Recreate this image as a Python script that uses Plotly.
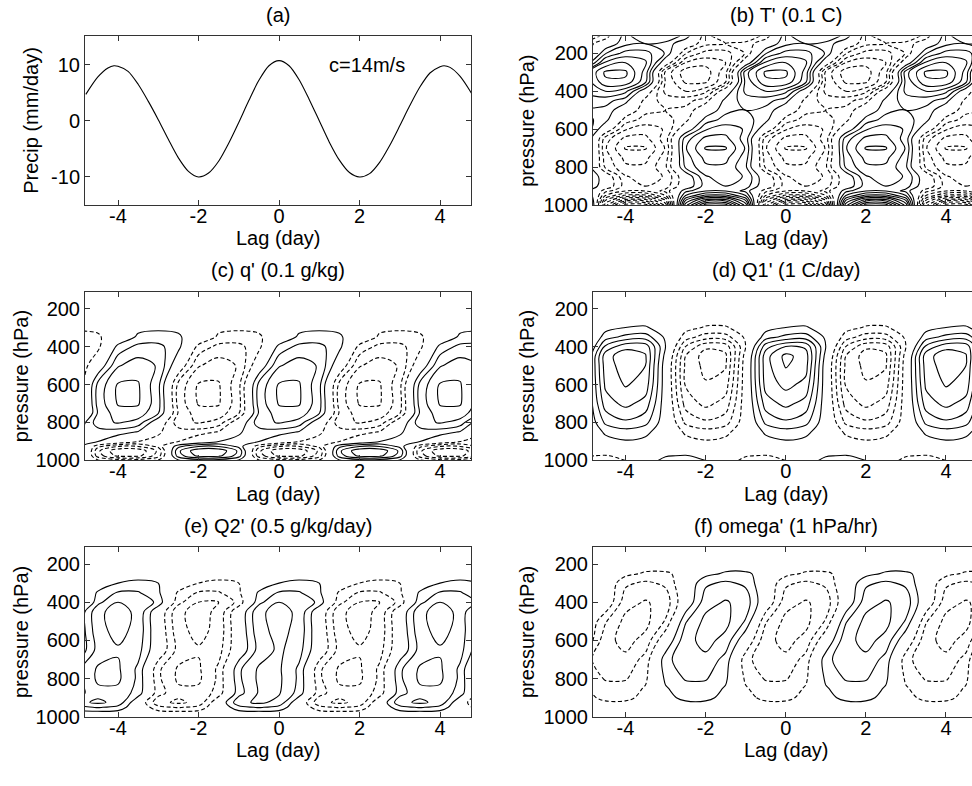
import plotly.graph_objects as go

# ---------------- data ----------------
# (a) precipitation composite
PRECIP_LAG = [-4.8, -4.5, -4.25, -4.1, -4.0, -3.75, -3.5, -3.25, -3.0, -2.75, -2.5, -2.25, -2.0,
              -1.75, -1.5, -1.25, -1.0, -0.75, -0.5, -0.25, 0.0, 0.25, 0.5, 0.75, 1.0, 1.25, 1.5,
              1.75, 2.0, 2.25, 2.5, 2.75, 3.0, 3.25, 3.5, 3.75, 4.0, 4.1, 4.25, 4.5, 4.8]
PRECIP = [4.7, 7.8, 9.4, 9.8, 9.7, 8.8, 6.5, 3.5, 0.2, -3.3, -6.6, -9.0, -10.0,
          -9.3, -7.2, -4.0, -0.3, 3.6, 7.2, 9.8, 10.7, 9.8, 7.3, 3.8, 0.0, -3.8, -7.0,
          -9.2, -10.0, -9.4, -7.4, -4.4, -0.9, 2.7, 6.0, 8.5, 9.6, 9.8, 9.5, 7.9, 4.7]

# lag grid shared by the height-lag panels
LAG = [-5.0, -4.5, -4.0, -3.5, -3.0, -2.5, -2.0, -1.5, -1.0, -0.5, 0.0,
       0.5, 1.0, 1.5, 2.0, 2.5, 3.0, 3.5, 4.0, 4.5, 5.0]

LAG_TICKS = [-4, -2, 0, 2, 4]
LAG_TICKTEXT = ["-4", "-2", "0", "2", "4"]
P_TICKS = [200, 400, 600, 800, 1000]
PRECIP_TICKS = [-10, 0, 10]
PRECIP_TICKTEXT = ["-10", "0", "10"]

# (b) T' (units of 0.1 C)
B_P = [1000, 975, 950, 925, 900, 850, 800, 750, 700, 650, 600, 550, 500, 450, 400, 350, 300, 250, 200, 150, 110]
B_T = [
    [6.6, -6.6, -11.5, -11.5, -6.6, 6.6, 11.5, 11.5, 6.6, -6.6, -11.5, -11.5, -6.6, 6.6, 11.5, 11.5, 6.6, -6.6, -11.5, -11.5, -6.6],
    [5.0, -5.0, -8.6, -8.6, -5.0, 5.0, 8.6, 8.6, 5.0, -5.0, -8.6, -8.6, -5.0, 5.0, 8.6, 8.6, 5.0, -5.0, -8.6, -8.6, -5.0],
    [3.0, -3.0, -5.3, -5.3, -3.0, 3.0, 5.3, 5.3, 3.0, -3.0, -5.3, -5.3, -3.0, 3.0, 5.3, 5.3, 3.0, -3.0, -5.3, -5.3, -3.0],
    [1.65, -1.65, -2.9, -2.9, -1.65, 1.65, 2.9, 2.9, 1.65, -1.65, -2.9, -2.9, -1.65, 1.65, 2.9, 2.9, 1.65, -1.65, -2.9, -2.9, -1.65],
    [2.5, 0.0, -2.5, -3.0, -2.5, 0.0, 2.5, 3.0, 2.5, 0.0, -2.5, -3.0, -2.5, 0.0, 2.5, 3.0, 2.5, 0.0, -2.5, -3.0, -2.5],
    [2.9, 0.0, -2.9, -3.5, -2.9, 0.0, 2.9, 3.5, 2.9, 0.0, -2.9, -3.5, -2.9, 0.0, 2.9, 3.5, 2.9, 0.0, -2.9, -3.5, -2.9],
    [2.2, -2.2, -3.8, -3.8, -2.2, 2.2, 3.8, 3.8, 2.2, -2.2, -3.8, -3.8, -2.2, 2.2, 3.8, 3.8, 2.2, -2.2, -3.8, -3.8, -2.2],
    [2.5, -2.5, -4.3, -4.3, -2.5, 2.5, 4.3, 4.3, 2.5, -2.5, -4.3, -4.3, -2.5, 2.5, 4.3, 4.3, 2.5, -2.5, -4.3, -4.3, -2.5],
    [2.9, -2.9, -5.1, -5.1, -2.9, 2.9, 5.1, 5.1, 2.9, -2.9, -5.1, -5.1, -2.9, 2.9, 5.1, 5.1, 2.9, -2.9, -5.1, -5.1, -2.9],
    [2.5, -2.5, -4.3, -4.3, -2.5, 2.5, 4.3, 4.3, 2.5, -2.5, -4.3, -4.3, -2.5, 2.5, 4.3, 4.3, 2.5, -2.5, -4.3, -4.3, -2.5],
    [2.9, 0.0, -2.9, -3.5, -2.9, 0.0, 2.9, 3.5, 2.9, 0.0, -2.9, -3.5, -2.9, 0.0, 2.9, 3.5, 2.9, 0.0, -2.9, -3.5, -2.9],
    [2.4, 1.4, -1.4, -2.4, -2.4, -1.4, 1.4, 2.4, 2.4, 1.4, -1.4, -2.4, -2.4, -1.4, 1.4, 2.4, 2.4, 1.4, -1.4, -2.4, -2.4],
    [2.0, 1.7, 0.0, -1.7, -2.0, -1.7, 0.0, 1.7, 2.0, 1.7, 0.0, -1.7, -2.0, -1.7, 0.0, 1.7, 2.0, 1.7, 0.0, -1.7, -2.0],
    [2.4, 2.4, 1.4, -1.4, -2.4, -2.4, -1.4, 1.4, 2.4, 2.4, 1.4, -1.4, -2.4, -2.4, -1.4, 1.4, 2.4, 2.4, 1.4, -1.4, -2.4],
    [3.3, 4.0, 3.3, 0.0, -3.3, -4.0, -3.3, 0.0, 3.3, 4.0, 3.3, 0.0, -3.3, -4.0, -3.3, 0.0, 3.3, 4.0, 3.3, 0.0, -3.3],
    [3.3, 5.8, 5.8, 3.3, -3.1, -5.2, -5.2, -3.1, 3.3, 5.8, 5.8, 3.3, -3.1, -5.2, -5.2, -3.1, 3.3, 5.8, 5.8, 3.3, -3.1],
    [3.6, 6.2, 6.2, 3.6, -3.3, -5.6, -5.6, -3.3, 3.6, 6.2, 6.2, 3.6, -3.3, -5.6, -5.6, -3.3, 3.6, 6.2, 6.2, 3.6, -3.3],
    [0.0, 4.2, 5.0, 4.2, 0.0, -4.0, -4.6, -4.0, 0.0, 4.2, 5.0, 4.2, 0.0, -4.0, -4.6, -4.0, 0.0, 4.2, 5.0, 4.2, 0.0],
    [-1.9, 1.9, 3.4, 3.4, 1.9, -1.9, -3.4, -3.4, -1.9, 1.9, 3.4, 3.4, 1.9, -1.9, -3.4, -3.4, -1.9, 1.9, 3.4, 3.4, 1.9],
    [-1.7, 0.0, 1.7, 2.0, 1.7, 0.0, -1.7, -2.0, -1.7, 0.0, 1.7, 2.0, 1.7, 0.0, -1.7, -2.0, -1.7, 0.0, 1.7, 2.0, 1.7],
    [-2.9, -1.65, 1.65, 2.9, 2.9, 1.65, -1.65, -2.9, -2.9, -1.65, 1.65, 2.9, 2.9, 1.65, -1.65, -2.9, -2.9, -1.65, 1.65, 2.9, 2.9],
]

# (c) q' (units of 0.1 g/kg)
C_P = [1000, 975, 950, 925, 900, 850, 800, 750, 700, 600, 500, 400, 350, 300, 250, 200, 110]
C_Q = [
    [0.8, -0.8, -1.4, -1.4, -0.8, 0.8, 1.4, 1.4, 0.8, -0.8, -1.4, -1.4, -0.8, 0.8, 1.4, 1.4, 0.8, -0.8, -1.4, -1.4, -0.8],
    [2.5, -2.5, -4.3, -4.3, -2.5, 2.5, 4.3, 4.3, 2.5, -2.5, -4.3, -4.3, -2.5, 2.5, 4.3, 4.3, 2.5, -2.5, -4.3, -4.3, -2.5],
    [2.8, -2.8, -4.8, -4.8, -2.8, 2.8, 4.8, 4.8, 2.8, -2.8, -4.8, -4.8, -2.8, 2.8, 4.8, 4.8, 2.8, -2.8, -4.8, -4.8, -2.8],
    [1.7, -1.7, -2.9, -2.9, -1.7, 1.7, 2.9, 2.9, 1.7, -1.7, -2.9, -2.9, -1.7, 1.7, 2.9, 2.9, 1.7, -1.7, -2.9, -2.9, -1.7],
    [1.2, 1.0, 0.0, -1.0, -1.2, -1.0, 0.0, 1.0, 1.2, 1.0, 0.0, -1.0, -1.2, -1.0, 0.0, 1.0, 1.2, 1.0, 0.0, -1.0, -1.2],
    [0.9, 1.5, 1.5, 0.9, -0.9, -1.5, -1.5, -0.9, 0.9, 1.5, 1.5, 0.9, -0.9, -1.5, -1.5, -0.9, 0.9, 1.5, 1.5, 0.9, -0.9],
    [0.0, 2.6, 3.1, 2.6, 0.0, -2.6, -3.1, -2.6, 0.0, 2.6, 3.1, 2.6, 0.0, -2.6, -3.1, -2.6, 0.0, 2.6, 3.1, 2.6, 0.0],
    [-2.1, 2.1, 3.6, 3.6, 2.1, -2.1, -3.6, -3.6, -2.1, 2.1, 3.6, 3.6, 2.1, -2.1, -3.6, -3.6, -2.1, 2.1, 3.6, 3.6, 2.1],
    [-2.4, 2.4, 4.1, 4.1, 2.4, -2.4, -4.1, -4.1, -2.4, 2.4, 4.1, 4.1, 2.4, -2.4, -4.1, -4.1, -2.4, 2.4, 4.1, 4.1, 2.4],
    [-2.3, 2.3, 4.1, 4.1, 2.3, -2.3, -4.1, -4.1, -2.3, 2.3, 4.1, 4.1, 2.3, -2.3, -4.1, -4.1, -2.3, 2.3, 4.1, 4.1, 2.3],
    [-2.0, 0.0, 2.9, 3.5, 2.9, 0.0, -2.9, -3.5, -2.9, 0.0, 2.9, 3.5, 2.9, 0.0, -2.9, -3.5, -2.9, 0.0, 2.9, 3.5, 2.9],
    [-1.5, -1.3, 1.3, 2.3, 2.3, 1.3, -1.3, -2.3, -2.3, -1.3, 1.3, 2.3, 2.3, 1.3, -1.3, -2.3, -2.3, -1.3, 1.3, 2.3, 2.3],
    [-1.4, -1.2, 0.0, 1.2, 1.4, 1.2, 0.0, -1.2, -1.4, -1.2, 0.0, 1.2, 1.4, 1.2, 0.0, -1.2, -1.4, -1.2, 0.0, 1.2, 1.4],
    [-0.8, -0.7, 0.0, 0.7, 0.8, 0.7, 0.0, -0.7, -0.8, -0.7, 0.0, 0.7, 0.8, 0.7, 0.0, -0.7, -0.8, -0.7, 0.0, 0.7, 0.8],
    [-0.3, -0.25, 0.0, 0.25, 0.3, 0.25, 0.0, -0.25, -0.3, -0.25, 0.0, 0.25, 0.3, 0.25, 0.0, -0.25, -0.3, -0.25, 0.0, 0.25, 0.3],
    [0.0] * 21,
    [0.0] * 21,
]

# (d) Q1' (units of 1 C/day)
D_P = [1000, 975, 950, 900, 850, 800, 700, 600, 500, 450, 400, 350, 300, 250, 200, 110]
D_Q1 = [
    [-1.4, -1.7, -1.0, 0.3, 1.4, 1.7, 1.0, -0.3, -1.4, -1.7, -1.0, 0.3, 1.4, 1.7, 1.0, -0.3, -1.4, -1.7, -1.0, 0.3, 1.4],
    [-0.9, -1.1, -0.6, 0.2, 0.9, 1.1, 0.6, -0.2, -0.9, -1.1, -0.6, 0.2, 0.9, 1.1, 0.6, -0.2, -0.9, -1.1, -0.6, 0.2, 0.9],
    [0.0, 0.1, 0.2, 0.1, 0.0, -0.1, -0.2, -0.1, 0.0, 0.1, 0.2, 0.1, 0.0, -0.1, -0.2, -0.1, 0.0, 0.1, 0.2, 0.1, 0.0],
    [-0.1, 0.6, 0.9, 0.7, 0.1, -0.6, -0.9, -0.7, -0.1, 0.6, 0.9, 0.7, 0.1, -0.6, -0.9, -0.7, -0.1, 0.6, 0.9, 0.7, 0.1],
    [-0.2, 1.2, 1.6, 1.3, 0.2, -1.2, -1.6, -1.3, -0.2, 1.2, 1.6, 1.3, 0.2, -1.2, -1.6, -1.3, -0.2, 1.2, 1.6, 1.3, 0.2],
    [-0.3, 2.2, 2.8, 2.3, 0.3, -2.2, -2.8, -2.4, -0.3, 2.2, 2.8, 2.3, 0.3, -2.2, -2.8, -2.4, -0.3, 2.2, 2.8, 2.3, 0.3],
    [-0.3, 3.5, 4.3, 3.6, 0.3, -3.4, -4.3, -3.6, -0.3, 3.5, 4.3, 3.6, 0.3, -3.4, -4.3, -3.6, -0.3, 3.5, 4.3, 3.6, 0.3],
    [-0.3, 4.2, 5.1, 4.6, 0.3, -4.1, -4.9, -4.5, -0.3, 4.4, 5.3, 4.7, 0.3, -4.1, -4.9, -4.5, -0.3, 4.2, 5.1, 4.6, 0.3],
    [-0.3, 4.5, 5.5, 5.0, 0.3, -4.2, -5.3, -5.1, -0.3, 4.6, 6.1, 5.4, 0.3, -4.2, -5.3, -5.1, -0.3, 4.5, 5.5, 5.0, 0.3],
    [-0.5, 4.6, 5.6, 5.1, 0.6, -4.0, -5.5, -5.2, -0.5, 4.6, 6.3, 5.5, 0.6, -4.0, -5.5, -5.2, -0.5, 4.6, 5.6, 5.1, 0.6],
    [-1.0, 3.2, 4.7, 4.6, 1.0, -3.0, -4.8, -4.6, -1.0, 3.6, 5.0, 4.8, 1.0, -3.0, -4.8, -4.6, -1.0, 3.2, 4.7, 4.6, 1.0],
    [-0.8, 1.5, 2.3, 2.5, 0.8, -1.5, -2.5, -2.4, -0.8, 1.5, 2.3, 2.5, 0.8, -1.5, -2.5, -2.4, -0.8, 1.5, 2.3, 2.5, 0.8],
    [-0.5, 0.6, 1.0, 1.1, 0.5, -0.6, -1.1, -1.1, -0.5, 0.6, 1.0, 1.1, 0.5, -0.6, -1.1, -1.1, -0.5, 0.6, 1.0, 1.1, 0.5],
    [-0.2, 0.3, 0.4, 0.5, 0.2, -0.3, -0.5, -0.5, -0.2, 0.3, 0.4, 0.5, 0.2, -0.3, -0.5, -0.5, -0.2, 0.3, 0.4, 0.5, 0.2],
    [0.0, 0.1, 0.1, 0.1, 0.0, -0.1, -0.1, -0.1, 0.0, 0.1, 0.1, 0.1, 0.0, -0.1, -0.1, -0.1, 0.0, 0.1, 0.1, 0.1, 0.0],
    [0.0] * 21,
]

# (e) Q2' (units of 0.5 g/kg/day)
E_P = [1000, 975, 950, 925, 875, 800, 750, 650, 550, 450, 400, 350, 300, 250, 200, 110]
E_Q2 = [
    [0.0] * 21,
    [0.7, 0.8, 0.7, 0.0, -0.7, -0.8, -0.7, 0.0, 0.7, 0.8, 0.7, 0.0, -0.7, -0.8, -0.7, 0.0, 0.7, 0.8, 0.7, 0.0, -0.7],
    [1.7, 2.1, 1.7, 0.0, -1.7, -2.1, -1.7, 0.0, 1.7, 2.1, 1.7, 0.0, -1.7, -2.1, -1.7, 0.0, 1.7, 2.1, 1.7, 0.0, -1.7],
    [2.7, 3.2, 2.7, 0.0, -2.7, -3.2, -2.7, 0.0, 2.7, 3.2, 2.7, 0.0, -2.7, -3.2, -2.7, 0.0, 2.7, 3.2, 2.7, 0.0, -2.7],
    [1.6, 2.7, 2.7, 1.6, -1.6, -2.7, -2.7, -1.6, 1.6, 3.1, 3.1, 1.6, -1.6, -2.7, -2.7, -1.6, 1.6, 2.7, 2.7, 1.6, -1.6],
    [1.8, 3.2, 3.2, 1.8, -1.8, -3.2, -3.2, -1.8, 1.8, 3.2, 3.2, 1.8, -1.8, -3.2, -3.2, -1.8, 1.8, 3.2, 3.2, 1.8, -1.8],
    [1.8, 3.15, 3.15, 1.8, -1.8, -3.15, -3.15, -1.8, 1.8, 3.15, 3.15, 1.8, -1.8, -3.15, -3.15, -1.8, 1.8, 3.15, 3.15, 1.8, -1.8],
    [0.0, 2.4, 2.9, 2.4, 0.0, -2.4, -2.9, -2.4, 0.0, 2.4, 3.2, 2.4, 0.0, -2.4, -2.9, -2.4, 0.0, 2.4, 2.9, 2.4, 0.0],
    [0.0, 2.7, 3.3, 2.7, 0.0, -2.7, -3.3, -2.7, 0.0, 2.7, 3.3, 2.7, 0.0, -2.7, -3.3, -2.7, 0.0, 2.7, 3.3, 2.7, 0.0],
    [0.0, 2.8, 3.35, 2.8, 0.0, -2.8, -3.35, -2.8, 0.0, 2.8, 3.35, 2.8, 0.0, -2.8, -3.35, -2.8, 0.0, 2.8, 3.35, 2.8, 0.0],
    [-1.7, 1.7, 3.0, 3.0, 1.7, -1.7, -3.0, -3.0, -1.7, 1.7, 3.0, 3.0, 1.7, -1.7, -3.0, -3.0, -1.7, 1.7, 3.0, 3.0, 1.7],
    [-1.2, 1.2, 2.1, 2.1, 1.2, -1.2, -2.1, -2.1, -1.2, 1.2, 2.1, 2.1, 1.2, -1.2, -2.1, -2.1, -1.2, 1.2, 2.1, 2.1, 1.2],
    [-1.0, 0.0, 1.0, 1.25, 1.0, 0.0, -1.0, -1.25, -1.0, 0.0, 1.0, 1.25, 1.0, 0.0, -1.0, -1.25, -1.0, 0.0, 1.0, 1.25, 1.0],
    [-0.4, 0.0, 0.4, 0.5, 0.4, 0.0, -0.4, -0.5, -0.4, 0.0, 0.4, 0.5, 0.4, 0.0, -0.4, -0.5, -0.4, 0.0, 0.4, 0.5, 0.4],
    [-0.1, 0.0, 0.1, 0.1, 0.1, 0.0, -0.1, -0.1, -0.1, 0.0, 0.1, 0.1, 0.1, 0.0, -0.1, -0.1, -0.1, 0.0, 0.1, 0.1, 0.1],
    [0.0] * 21,
]

# (f) omega' (units of 1 hPa/hr)
F_P = [1000, 950, 900, 850, 800, 700, 600, 500, 400, 300, 250, 200, 110]
F_W = [
    [0.0] * 21,
    [-0.3, -0.5, -0.5, -0.3, 0.3, 0.5, 0.5, 0.3, -0.3, -0.5, -0.5, -0.3, 0.3, 0.5, 0.5, 0.3, -0.3, -0.5, -0.5, -0.3, 0.3],
    [-0.7, -1.25, -1.25, -0.7, 0.7, 1.25, 1.25, 0.7, -0.7, -1.25, -1.25, -0.7, 0.7, 1.25, 1.25, 0.7, -0.7, -1.25, -1.25, -0.7, 0.7],
    [-0.9, -1.6, -1.6, -0.9, 0.9, 1.6, 1.6, 0.9, -0.9, -1.6, -1.6, -0.9, 0.9, 1.6, 1.6, 0.9, -0.9, -1.6, -1.6, -0.9, 0.9],
    [-1.2, -2.1, -2.1, -1.2, 1.2, 2.1, 2.1, 1.2, -1.2, -2.1, -2.1, -1.2, 1.2, 2.1, 2.1, 1.2, -1.2, -2.1, -2.1, -1.2, 1.2],
    [-1.6, -2.8, -2.8, -1.6, 1.6, 2.8, 2.8, 1.6, -1.6, -2.8, -2.8, -1.6, 1.6, 2.8, 2.8, 1.6, -1.6, -2.8, -2.8, -1.6, 1.6],
    [0.0, -2.7, -3.3, -2.7, 0.0, 2.7, 3.3, 2.7, 0.0, -2.7, -3.3, -2.7, 0.0, 2.7, 3.3, 2.7, 0.0, -2.7, -3.3, -2.7, 0.0],
    [0.3, -1.9, -3.3, -3.3, -1.9, 1.9, 3.3, 3.3, 1.9, -1.9, -3.3, -3.3, -1.9, 1.9, 3.3, 3.3, 1.9, -1.9, -3.3, -3.3, -1.9],
    [0.6, 0.0, -2.6, -3.1, -2.6, 0.0, 2.6, 3.1, 2.6, 0.0, -2.6, -3.1, -2.6, 0.0, 2.6, 3.1, 2.6, 0.0, -2.6, -3.1, -2.6],
    [0.5, 0.0, -1.8, -2.2, -1.8, 0.0, 1.8, 2.2, 1.8, 0.0, -1.8, -2.2, -1.8, 0.0, 1.8, 2.2, 1.8, 0.0, -1.8, -2.2, -1.8],
    [0.3, 0.3, -0.66, -1.15, -1.15, -0.66, 0.66, 1.15, 1.15, 0.66, -0.66, -1.15, -1.15, -0.66, 0.66, 1.15, 1.15, 0.66, -0.66, -1.15, -1.15],
    [0.1, 0.1, -0.2, -0.4, -0.4, -0.2, 0.2, 0.4, 0.4, 0.2, -0.2, -0.4, -0.4, -0.2, 0.2, 0.4, 0.4, 0.2, -0.2, -0.4, -0.4],
    [0.0] * 21,
]

# ---------------- figure ----------------
W, H = 972, 786
FONT = dict(family="Liberation Sans, Arial, sans-serif", size=20, color="black")
AXC = "#333333"
DASH = "4px,2.5px"

fig = go.Figure()

fig.add_trace(go.Scatter(x=PRECIP_LAG, y=PRECIP, mode="lines",
                         line=dict(color="black", width=1.1, shape="spline", smoothing=0.8),
                         hoverinfo="skip", showlegend=False, xaxis="x", yaxis="y"))


def add_field(pres, z, nmax, ax):
    for lo, hi, dash in ((1, nmax, "solid"), (-nmax, -1, DASH)):
        fig.add_trace(go.Contour(
            x=LAG, y=pres, z=z, autocontour=False,
            contours=dict(start=lo, end=hi, size=1, coloring="none", showlabels=False),
            line=dict(color="black", width=1.1, dash=dash, smoothing=1.0),
            showscale=False, hoverinfo="skip", showlegend=False,
            xaxis="x" + ax, yaxis="y" + ax))


add_field(B_P, B_T, 12, "2")
add_field(C_P, C_Q, 5, "3")
add_field(D_P, D_Q1, 7, "4")
add_field(E_P, E_Q2, 4, "5")
add_field(F_P, F_W, 4, "6")

# panel placement in pixels (right column runs off the right edge of the page)
LEFT_X = (85, 471)
RIGHT_X = (593, 972)
ROWS_Y = [(37, 208), (296, 467), (555, 727)]


def xdom(px):
    return [px[0] / W, px[1] / W]


def ydom(py):
    return [1 - py[1] / H, 1 - py[0] / H]


def xaxis(px, rng, anchor):
    return dict(domain=xdom(px), range=rng, anchor=anchor, showline=True, linecolor=AXC,
                linewidth=1, mirror="ticks", ticks="inside", ticklen=5, tickcolor=AXC,
                tickvals=LAG_TICKS, ticktext=LAG_TICKTEXT, showgrid=False, zeroline=False,
                tickfont=FONT, ticklabelstandoff=-7, fixedrange=True)


def yaxis(py, rng, anchor, tv, tt, mirror):
    return dict(domain=ydom(py), range=rng, anchor=anchor, showline=True, linecolor=AXC,
                linewidth=1, mirror=mirror, ticks="inside", ticklen=5, tickcolor=AXC,
                tickvals=tv, ticktext=tt, showgrid=False, zeroline=False,
                tickfont=FONT, fixedrange=True)


LRANGE = [-4.82, 4.77]
RRANGE = [-4.81, 4.65]
PRANGE = [1000, 112]
PT = [str(v) for v in P_TICKS]

layout = dict(
    width=W, height=H, margin=dict(l=0, r=0, t=0, b=0),
    paper_bgcolor="white", plot_bgcolor="white", showlegend=False,
    font=FONT,
    xaxis=xaxis(LEFT_X, LRANGE, "y"),
    yaxis=yaxis(ROWS_Y[0], [-15, 15], "x", PRECIP_TICKS, PRECIP_TICKTEXT, "ticks"),
    xaxis2=xaxis(RIGHT_X, RRANGE, "y2"),
    yaxis2=yaxis(ROWS_Y[0], PRANGE, "x2", P_TICKS, PT, False),
    xaxis3=xaxis(LEFT_X, LRANGE, "y3"),
    yaxis3=yaxis(ROWS_Y[1], PRANGE, "x3", P_TICKS, PT, "ticks"),
    xaxis4=xaxis(RIGHT_X, RRANGE, "y4"),
    yaxis4=yaxis(ROWS_Y[1], PRANGE, "x4", P_TICKS, PT, False),
    xaxis5=xaxis(LEFT_X, LRANGE, "y5"),
    yaxis5=yaxis(ROWS_Y[2], PRANGE, "x5", P_TICKS, PT, "ticks"),
    xaxis6=xaxis(RIGHT_X, RRANGE, "y6"),
    yaxis6=yaxis(ROWS_Y[2], PRANGE, "x6", P_TICKS, PT, False),
)

TITLES = ["(a)", "(b) T' (0.1 C)", "(c) q' (0.1 g/kg)", "(d) Q1' (1 C/day)",
          "(e) Q2' (0.5 g/kg/day)", "(f) omega' (1 hPa/hr)"]
YLABELS = ["Precip (mm/day)", "pressure (hPa)", "pressure (hPa)", "pressure (hPa)",
           "pressure (hPa)", "pressure (hPa)"]
XLABEL = "Lag (day)"

title_y = [15, 274, 533]
xlabel_y = [241, 501, 761]
col_cx = [278, 786]
ylabel_x = [[31, 527], [21, 527], [21, 527]]

ann = []
for i in range(6):
    r, c = divmod(i, 2)
    ann.append(dict(text=TITLES[i], x=col_cx[c] / W, y=1 - title_y[r] / H, xref="paper", yref="paper",
                    xanchor="center", yanchor="middle", showarrow=False, font=FONT, borderpad=0))
    ann.append(dict(text=XLABEL, x=col_cx[c] / W, y=1 - xlabel_y[r] / H, xref="paper", yref="paper",
                    xanchor="center", yanchor="middle", showarrow=False, font=FONT, borderpad=0))
    cy = (ROWS_Y[r][0] + ROWS_Y[r][1]) / 2
    ann.append(dict(text=YLABELS[i], x=ylabel_x[r][c] / W, y=1 - cy / H, xref="paper", yref="paper",
                    xanchor="center", yanchor="middle", textangle=-90, showarrow=False, font=FONT,
                    borderpad=0))
ann.append(dict(text="c=14m/s", x=2.18, y=10, xref="x", yref="y", xanchor="center",
                yanchor="middle", showarrow=False, font=FONT))
layout["annotations"] = ann

fig.update_layout(**layout)
# drop the browser's default 8px page margin so the figure sits at the window origin
fig.write_html("out.html", config=dict(displayModeBar=False),
               post_script="document.body.style.margin='0px';")
